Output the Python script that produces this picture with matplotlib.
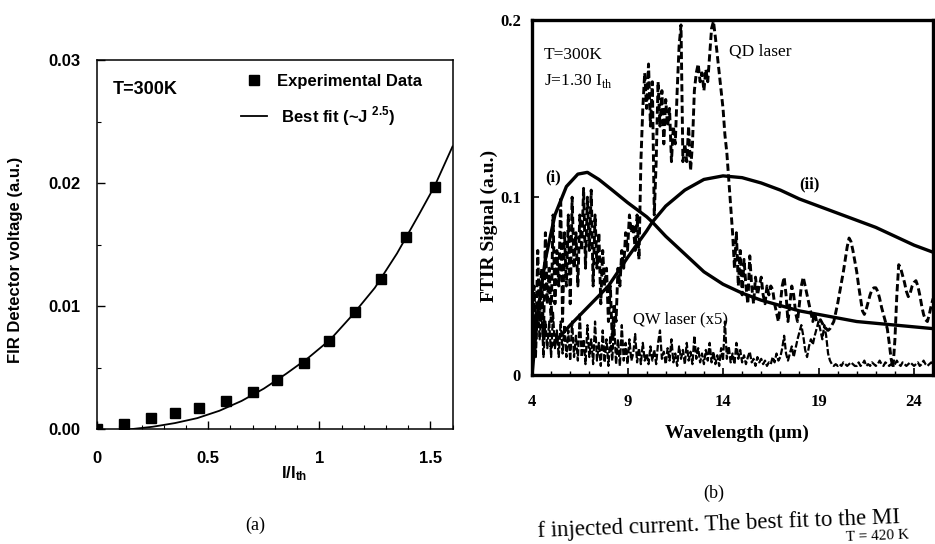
import numpy as np
import matplotlib
matplotlib.use('Agg')
import matplotlib.pyplot as plt
from matplotlib.ticker import MultipleLocator

plt.rcParams['mathtext.fontset'] = 'custom'
plt.rcParams['mathtext.rm'] = 'Liberation Serif'
plt.rcParams['mathtext.bf'] = 'Liberation Sans:bold'

SANS = 'Liberation Sans'
SERIF = 'Liberation Serif'

# (a) FIR detector voltage vs injected current
exp_current = [0.0, 0.12, 0.24, 0.35, 0.46, 0.58, 0.70, 0.81, 0.93, 1.045, 1.16, 1.28, 1.39, 1.52]
exp_voltage = [0.0, 0.00044, 0.00088, 0.0013, 0.0017, 0.0023, 0.0030, 0.0040, 0.0054,
               0.0072, 0.0095, 0.0122, 0.0156, 0.0197]
fit_current = [0.15, 0.25, 0.35, 0.45, 0.55, 0.65, 0.75, 0.85, 0.95, 1.05, 1.15, 1.25,
               1.35, 1.45, 1.52, 1.60]
fit_voltage = [0.0, 0.0002, 0.0005, 0.0009, 0.0015, 0.0023, 0.0033, 0.0045, 0.0058, 0.0073,
               0.0093, 0.0115, 0.0143, 0.0175, 0.0198, 0.0230]

# (b) FTIR spectra
curve_i_wl = [4.0, 4.3, 4.7, 5.2, 5.8, 6.4, 6.9, 7.5, 8.2, 9.0, 10.0, 10.3, 11.0, 12.0,
              13.0, 14.0, 15.0, 16.0, 17.0, 18.0, 19.0, 20.0, 21.0, 22.0, 23.0, 24.0, 25.0]
curve_i_sig = [0.0, 0.035, 0.065, 0.090, 0.106, 0.113, 0.114, 0.110, 0.104, 0.097, 0.089,
               0.086, 0.078, 0.068, 0.058, 0.051, 0.046, 0.042, 0.039, 0.036, 0.034, 0.032,
               0.030, 0.029, 0.028, 0.027, 0.026]
curve_ii_wl = [5.0, 5.5, 6.0, 7.0, 8.0, 9.0, 10.0, 10.3, 11.0, 12.0, 13.0, 14.0, 15.0,
               16.0, 17.0, 18.0, 19.0, 20.0, 21.0, 22.0, 23.0, 24.0, 25.0]
curve_ii_sig = [0.016, 0.022, 0.028, 0.039, 0.050, 0.066, 0.081, 0.086, 0.095, 0.104, 0.110,
                0.112, 0.111, 0.108, 0.104, 0.099, 0.095, 0.091, 0.087, 0.083, 0.078, 0.073,
                0.069]

spec_wl = np.linspace(4.0, 25.0, 211)
qd_sig = [
    0.000, 0.050, 0.020, 0.070, 0.030, 0.060, 0.020, 0.080, 0.040, 0.060,
    0.030, 0.090, 0.040, 0.070, 0.050, 0.100, 0.030, 0.080, 0.050, 0.090,
    0.040, 0.100, 0.060, 0.080, 0.050, 0.090, 0.070, 0.105, 0.060, 0.100,
    0.070, 0.104, 0.050, 0.090, 0.060, 0.080, 0.040, 0.070, 0.050, 0.060,
    0.030, 0.050, 0.020, 0.040, 0.030, 0.060, 0.050, 0.070, 0.060, 0.080,
    0.070, 0.090, 0.080, 0.085, 0.070, 0.090, 0.065, 0.120, 0.150, 0.170,
    0.150, 0.175, 0.140, 0.165, 0.090, 0.120, 0.165, 0.140, 0.160, 0.130,
    0.155, 0.140, 0.150, 0.120, 0.140, 0.130, 0.160, 0.185, 0.197, 0.120,
    0.130, 0.120, 0.140, 0.115, 0.130, 0.160, 0.170, 0.175, 0.165, 0.170,
    0.160, 0.172, 0.165, 0.180, 0.195, 0.199, 0.190, 0.180, 0.170, 0.160,
    0.150, 0.135, 0.125, 0.110, 0.095, 0.080, 0.060, 0.080, 0.050, 0.070,
    0.045, 0.065, 0.050, 0.040, 0.067, 0.050, 0.040, 0.055, 0.045, 0.050,
    0.055, 0.045, 0.040, 0.050, 0.045, 0.050, 0.048, 0.040, 0.035, 0.030,
    0.040, 0.050, 0.055, 0.045, 0.030, 0.040, 0.050, 0.045, 0.035, 0.030,
    0.040, 0.050, 0.055, 0.050, 0.045, 0.040, 0.035, 0.030, 0.035, 0.030,
    0.030, 0.031, 0.029, 0.027, 0.026, 0.025, 0.026, 0.028, 0.030, 0.035,
    0.040, 0.046, 0.052, 0.058, 0.065, 0.072, 0.077, 0.075, 0.070, 0.064,
    0.058, 0.050, 0.043, 0.036, 0.034, 0.037, 0.041, 0.045, 0.048, 0.049,
    0.049, 0.047, 0.043, 0.038, 0.034, 0.030, 0.026, 0.018, 0.009, 0.004,
    0.020, 0.045, 0.062, 0.060, 0.056, 0.052, 0.047, 0.044, 0.046, 0.050,
    0.052, 0.053, 0.050, 0.045, 0.039, 0.034, 0.031, 0.030, 0.034, 0.039,
    0.043,
]
qw_sig = [
    0.000, 0.030, 0.010, 0.040, 0.020, 0.035, 0.010, 0.030, 0.015, 0.030,
    0.010, 0.035, 0.015, 0.025, 0.010, 0.030, 0.012, 0.028, 0.010, 0.025,
    0.008, 0.030, 0.010, 0.022, 0.008, 0.035, 0.010, 0.020, 0.006, 0.028,
    0.010, 0.020, 0.006, 0.030, 0.008, 0.018, 0.005, 0.025, 0.007, 0.020,
    0.005, 0.022, 0.008, 0.030, 0.006, 0.020, 0.005, 0.028, 0.008, 0.018,
    0.006, 0.020, 0.008, 0.012, 0.023, 0.007, 0.015, 0.006, 0.018, 0.008,
    0.012, 0.006, 0.016, 0.008, 0.014, 0.006, 0.018, 0.025, 0.009, 0.013,
    0.006, 0.015, 0.008, 0.020, 0.007, 0.012, 0.005, 0.016, 0.009, 0.014,
    0.006, 0.018, 0.008, 0.013, 0.006, 0.022, 0.009, 0.015, 0.007, 0.012,
    0.006, 0.014, 0.008, 0.018, 0.007, 0.013, 0.006, 0.011, 0.005, 0.015,
    0.008, 0.030, 0.009, 0.016, 0.007, 0.012, 0.006, 0.018, 0.009, 0.014,
    0.007, 0.011, 0.006, 0.010, 0.013, 0.007, 0.009, 0.005, 0.010, 0.007,
    0.009, 0.006, 0.008, 0.005, 0.007, 0.006, 0.010, 0.007, 0.012, 0.008,
    0.010, 0.015, 0.022, 0.012, 0.008, 0.012, 0.016, 0.010, 0.015, 0.020,
    0.024, 0.028, 0.022, 0.014, 0.010, 0.016, 0.020, 0.017, 0.022, 0.026,
    0.030, 0.025, 0.020, 0.028, 0.022, 0.012, 0.008, 0.006, 0.005, 0.006,
    0.005, 0.006, 0.005, 0.007, 0.006, 0.005, 0.006, 0.007, 0.006, 0.005,
    0.005, 0.007, 0.005, 0.006, 0.008, 0.005, 0.006, 0.005, 0.007, 0.006,
    0.005, 0.006, 0.008, 0.006, 0.005, 0.007, 0.006, 0.005, 0.006, 0.005,
    0.006, 0.008, 0.006, 0.005, 0.007, 0.006, 0.005, 0.006, 0.007, 0.006,
    0.005, 0.006, 0.007, 0.005, 0.006, 0.008, 0.006, 0.005, 0.006, 0.007,
    0.006,
]

fig = plt.figure(figsize=(9.35, 5.44), dpi=100)

# ---- panel (a) ----
ax1 = fig.add_axes([0.104, 0.211, 0.380, 0.678])
ax1.plot(exp_current, exp_voltage, 's', color='black', markersize=7,
         label='Experimental Data', zorder=3)
ax1.plot(fit_current, fit_voltage, '-', color='black', lw=1.3,
         label=r' Best fit (~J $^{\mathbf{2.5}}$)')
ax1.set_xlim(0, 1.6)
ax1.set_ylim(0, 0.03)
ax1.xaxis.set_minor_locator(MultipleLocator(0.1))
ax1.yaxis.set_minor_locator(MultipleLocator(0.005))
ax1.set_xticks([0, 0.5, 1, 1.5], ['0', '0.5', '1', '1.5'])
ax1.set_yticks([0, 0.01, 0.02, 0.03], ['0.00', '0.01', '0.02', '0.03'])
ax1.tick_params(which='both', direction='in', top=False, right=False)
ax1.tick_params(which='major', length=6, width=1.0)
ax1.tick_params(which='minor', length=3, width=0.8)
ax1.tick_params(axis='x', pad=16)
ax1.tick_params(axis='y', pad=12)
for lab in ax1.get_xticklabels() + ax1.get_yticklabels():
    lab.set_fontfamily(SANS)
    lab.set_fontweight('bold')
    lab.set_fontsize(12)
for sp in ax1.spines.values():
    sp.set_linewidth(1.1)

ax1.set_ylabel('FIR Detector voltage (a.u.)', fontfamily=SANS, fontweight='bold',
               fontsize=12)
ax1.yaxis.set_label_coords(-0.21, 0.46)
ax1.set_xlabel(r'$\mathbf{I/I_{th}}$', fontsize=12)
ax1.xaxis.set_label_coords(0.555, -0.095)

ax1.text(0.072, 0.0276, 'T=300K', fontfamily=SANS, fontweight='bold', fontsize=13,
         ha='left', va='center')
ax1.legend(loc='upper left', bbox_to_anchor=(0.38, 0.985), frameon=False,
           handlelength=1.6, handletextpad=0.6, labelspacing=0.9, borderpad=0,
           prop={'family': SANS, 'weight': 'bold', 'size': 12})

fig.text(0.273, 0.035, '(a)', fontfamily=SERIF, fontsize=13, ha='center', va='center')

# ---- panel (b) ----
ax2 = fig.add_axes([0.569, 0.311, 0.429, 0.653])
ax2.plot(spec_wl, qw_sig, color='black', lw=1.6, ls=(0, (3.0, 1.0)))
ax2.plot(spec_wl, qd_sig, color='black', lw=2.1, ls=(0, (2.5, 1.2)))
ax2.plot(curve_i_wl, curve_i_sig, color='black', lw=2.4)
ax2.plot(curve_ii_wl, curve_ii_sig, color='black', lw=2.4)
ax2.set_xlim(4, 25)
ax2.set_ylim(0, 0.2)
ax2.set_xticks([4, 9, 14, 19, 24])
ax2.xaxis.set_minor_locator(MultipleLocator(1))
ax2.set_yticks([0, 0.1, 0.2], ['0', '0.1', '0.2'])
ax2.tick_params(which='both', direction='in', top=False, right=False)
ax2.tick_params(which='major', length=5, width=1.2)
ax2.tick_params(which='minor', length=3, width=1.0)
ax2.tick_params(axis='x', pad=14)
ax2.tick_params(axis='y', pad=8)
for lab in ax2.get_xticklabels() + ax2.get_yticklabels():
    lab.set_fontfamily(SERIF)
    lab.set_fontweight('bold')
    lab.set_fontsize(12)
for sp in ax2.spines.values():
    sp.set_linewidth(2.4)

ax2.set_ylabel('FTIR Signal (a.u.)', fontfamily=SERIF, fontweight='bold', fontsize=14)
ax2.yaxis.set_label_coords(-0.085, 0.42)
ax2.set_xlabel('Wavelength (\u03bcm)', fontfamily=SERIF, fontweight='bold', fontsize=14)
ax2.xaxis.set_label_coords(0.51, -0.14)

ax2.text(0.03, 0.9, 'T=300K', transform=ax2.transAxes, fontfamily=SERIF, fontsize=12.5,
         ha='left', va='center')
ax2.text(0.03, 0.826, r'J=1.30 I$_{\mathrm{th}}$', transform=ax2.transAxes,
         fontfamily=SERIF, fontsize=12.5, ha='left', va='center')
ax2.text(14.3, 0.182, 'QD laser', fontfamily=SERIF, fontsize=12.5, ha='left', va='center')
ax2.text(9.3, 0.031, 'QW laser (x5)', fontfamily=SERIF, fontsize=12, ha='left',
         va='center')
ax2.text(5.1, 0.111, '(i)', fontfamily=SERIF, fontweight='bold', fontsize=12,
         ha='center', va='center')
ax2.text(18.5, 0.107, '(ii)', fontfamily=SERIF, fontweight='bold', fontsize=12,
         ha='center', va='center')

fig.text(0.763, 0.094, '(b)', fontfamily=SERIF, fontsize=13, ha='center', va='center')

# running caption text below the figure
fig.text(0.575, 0.013, 'f injected current. The best fit to the MI', fontfamily=SERIF,
         fontsize=16.5, ha='left', va='baseline', rotation=2.2, rotation_mode='anchor')
fig.text(0.905, 0.006, 'T = 420 K', fontfamily=SERIF, fontsize=11, ha='left',
         va='baseline', rotation=2.2, rotation_mode='anchor')

fig.savefig('out.png', dpi=100)
